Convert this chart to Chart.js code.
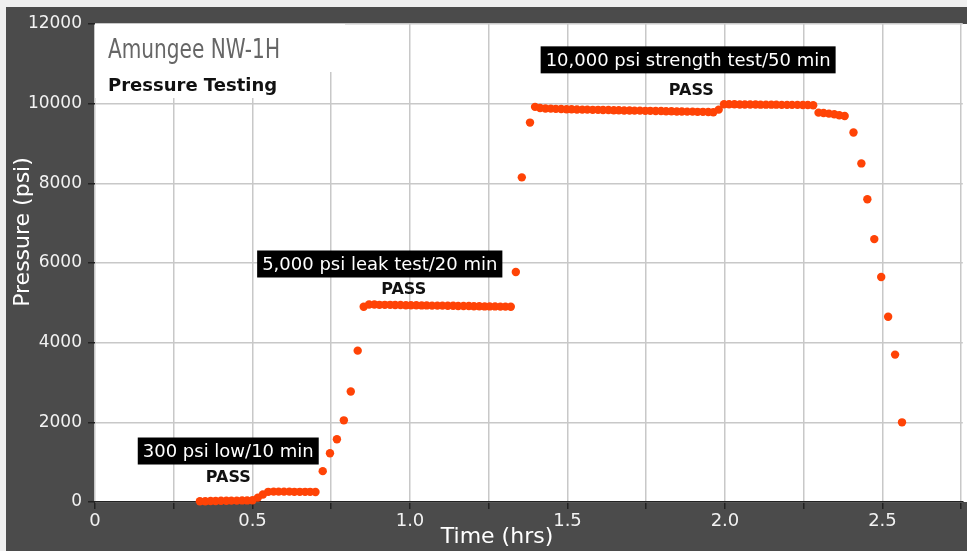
<!DOCTYPE html>
<html>
<head>
<meta charset="utf-8">
<title>Amungee NW-1H Pressure Testing</title>
<script src="https://cdn.jsdelivr.net/npm/chart.js@4.4.1/dist/chart.umd.min.js"></script>
<style>
    html, body { margin: 0; padding: 0; background: #efefef; overflow: hidden; }
    #wrap { width: 967px; height: 551px; }
</style>
</head>
<body>
<div id="wrap"><canvas id="pressureChart" width="967" height="551"></canvas></div>
<script>
// time (hrs) and pressure (psi)
const timeHrs = [
    0.333, 0.350, 0.367, 0.383, 0.400, 0.417, 0.433, 0.450, 0.467, 0.483, 0.500,
    0.517, 0.533,
    0.550, 0.567, 0.583, 0.600, 0.617, 0.633, 0.650, 0.667, 0.683, 0.700,
    0.723, 0.746, 0.768, 0.790, 0.812, 0.834,
    0.853, 0.870, 0.887, 0.903, 0.920, 0.937, 0.953, 0.970, 0.987, 1.003,
    1.020, 1.037, 1.053, 1.070, 1.087, 1.103, 1.120, 1.137, 1.153, 1.170,
    1.187, 1.203, 1.220, 1.237, 1.253, 1.270, 1.287, 1.303, 1.320,
    1.336, 1.355, 1.381,
    1.397, 1.413, 1.430, 1.447, 1.463, 1.480, 1.497, 1.513, 1.530, 1.547,
    1.563, 1.580, 1.597, 1.613, 1.630, 1.647, 1.663, 1.680, 1.697, 1.713,
    1.730, 1.747, 1.763, 1.780, 1.797, 1.813, 1.830, 1.847, 1.863, 1.880,
    1.897, 1.913, 1.930, 1.947, 1.963,
    1.980,
    1.997, 2.013, 2.030, 2.047, 2.063, 2.080, 2.097, 2.113, 2.130, 2.147,
    2.163, 2.180, 2.197, 2.213, 2.230, 2.247, 2.263, 2.280,
    2.297, 2.313, 2.330, 2.347, 2.363, 2.380,
    2.408, 2.433, 2.452, 2.474, 2.496, 2.518, 2.540, 2.562
];
const pressurePsi = [
    20, 20, 25, 25, 30, 30, 35, 35, 40, 40, 45,
    110, 190,
    255, 260, 260, 260, 260, 255, 255, 255, 255, 250,
    775, 1225, 1575, 2050, 2775, 3800,
    4900, 4960, 4960, 4950, 4950, 4950, 4945, 4945, 4940, 4940,
    4940, 4935, 4935, 4930, 4930, 4930, 4925, 4925, 4920, 4920,
    4920, 4915, 4915, 4910, 4910, 4910, 4905, 4905, 4900,
    5775, 8150, 9525,
    9920, 9890, 9880, 9875, 9870, 9865, 9860, 9860, 9855, 9850,
    9850, 9845, 9845, 9840, 9840, 9835, 9835, 9830, 9830, 9825,
    9825, 9820, 9820, 9815, 9815, 9810, 9810, 9805, 9805, 9800,
    9800, 9795, 9795, 9790, 9785,
    9850,
    9985, 9985, 9985, 9980, 9980, 9980, 9980, 9975, 9975, 9975,
    9975, 9970, 9970, 9970, 9970, 9965, 9965, 9960,
    9775, 9765, 9750, 9735, 9710, 9690,
    9275, 8500, 7600, 6600, 5650, 4650, 3700, 2000
];

const xTickValues = [0, 0.5, 1.0, 1.5, 2.0, 2.5];
const xTickLabels = ['0', '0.5', '1.0', '1.5', '2.0', '2.5'];
const yTickValues = [0, 2000, 4000, 6000, 8000, 10000, 12000];
const yTickLabels = ['0', '2000', '4000', '6000', '8000', '10000', '12000'];

const testLabels = ['300 psi low/10 min', '5,000 psi leak test/20 min', '10,000 psi strength test/50 min'];
const testResults = ['PASS', 'PASS', 'PASS'];

const FONT = "'DejaVu Sans', Verdana, sans-serif";

// where each test label sits (box centre / PASS centre), in data units
const labelSpots = [
    { bx: 0.423, by: 1280, px: 0.423, py: 600 },
    { bx: 0.904, by: 5975, px: 0.980, py: 5320 },
    { bx: 1.883, by: 11100, px: 1.893, py: 10330 }
];

const framePlugin = {
    id: 'frame',
    beforeDraw(chart) {
        const { ctx, chartArea: a, width, height } = chart;
        ctx.save();
        ctx.fillStyle = '#efefef';
        ctx.fillRect(0, 0, width, height);
        ctx.fillStyle = '#4b4b4b';
        ctx.fillRect(6, 7, width - 6, height - 7);
        ctx.fillStyle = '#ffffff';
        ctx.fillRect(a.left, a.top, width - a.left, a.bottom - a.top);
        ctx.restore();
    }
};

const decorPlugin = {
    id: 'decor',
    afterDraw(chart) {
        const { ctx, chartArea: a } = chart;
        const xs = chart.scales.x, ys = chart.scales.y;
        ctx.save();

        // title blocks (white behind, hides the grid)
        ctx.fillStyle = '#ffffff';
        ctx.fillRect(a.left, a.top, 250, 48);
        ctx.fillRect(a.left, a.top + 48, 205, 26);

        ctx.textBaseline = 'alphabetic';
        ctx.textAlign = 'left';
        ctx.fillStyle = '#666666';
        ctx.font = '26px ' + FONT;
        const tw = ctx.measureText('Amungee NW-1H').width;
        ctx.save();
        ctx.translate(108, 58);
        ctx.scale(172 / tw, 1);
        ctx.fillText('Amungee NW-1H', 0, 0);
        ctx.restore();

        ctx.fillStyle = '#111111';
        ctx.font = 'bold 18px ' + FONT;
        ctx.fillText('Pressure Testing', 108, 91);

        // axis titles
        ctx.fillStyle = '#ffffff';
        ctx.font = '22px ' + FONT;
        ctx.textAlign = 'center';
        ctx.textBaseline = 'middle';
        ctx.fillText('Time (hrs)', 497, 537);
        ctx.save();
        ctx.translate(23, 232);
        ctx.rotate(-Math.PI / 2);
        ctx.fillText('Pressure (psi)', 0, 0);
        ctx.restore();

        // test labels
        labelSpots.forEach((s, i) => {
            ctx.font = '18px ' + FONT;
            const w = ctx.measureText(testLabels[i]).width + 10;
            const cx = xs.getPixelForValue(s.bx), cy = ys.getPixelForValue(s.by);
            ctx.fillStyle = '#000000';
            ctx.fillRect(cx - w / 2, cy - 13.5, w, 27);
            ctx.fillStyle = '#ffffff';
            ctx.fillText(testLabels[i], cx, cy + 1);
            ctx.fillStyle = '#111111';
            ctx.font = 'bold 16px ' + FONT;
            ctx.fillText(testResults[i], xs.getPixelForValue(s.px), ys.getPixelForValue(s.py));
        });
        ctx.restore();
    }
};

const ctx = document.getElementById('pressureChart').getContext('2d');
new Chart(ctx, {
    type: 'scatter',
    data: {
        datasets: [{
            label: 'Pressure',
            data: timeHrs.map((t, i) => ({ x: t, y: pressurePsi[i] })),
            backgroundColor: '#ff4306',
            borderWidth: 0,
            pointRadius: 4.2,
            pointHoverRadius: 4.2,
            clip: false
        }]
    },
    plugins: [framePlugin, decorPlugin],
    options: {
        responsive: false,
        animation: false,
        events: [],
        layout: { padding: { top: 24, right: -5, left: 0, bottom: 0 } },
        plugins: {
            legend: { display: false },
            tooltip: { enabled: false }
        },
        scales: {
            x: {
                type: 'linear',
                min: 0,
                max: 2.755,
                afterFit(scale) {
                    scale.height = 49;
                    scale.paddingLeft = 0;
                    scale.paddingRight = 0;
                },
                border: { display: true, color: '#222222', width: 1.5 },
                grid: { color: '#c8c8c8', lineWidth: 1.5, tickColor: '#222222', tickLength: 7 },
                ticks: {
                    stepSize: 0.25,
                    includeBounds: false,
                    autoSkip: false,
                    maxRotation: 0,
                    padding: 2,
                    color: '#f2f2f2',
                    font: { family: FONT, size: 18 },
                    callback(v) {
                        const i = xTickValues.findIndex(t => Math.abs(t - v) < 1e-6);
                        return i >= 0 ? xTickLabels[i] : '';
                    }
                }
            },
            y: {
                min: 0,
                max: 12000,
                afterFit(scale) { scale.width = 95; },
                border: { display: false },
                grid: { color: '#c8c8c8', lineWidth: 1.5, tickColor: '#222222', tickLength: 7 },
                ticks: {
                    stepSize: 2000,
                    padding: 6,
                    color: '#f2f2f2',
                    font: { family: FONT, size: 17 },
                    callback(v) {
                        const i = yTickValues.indexOf(v);
                        return i >= 0 ? yTickLabels[i] : '';
                    }
                }
            }
        }
    }
});
</script>
</body>
</html>
